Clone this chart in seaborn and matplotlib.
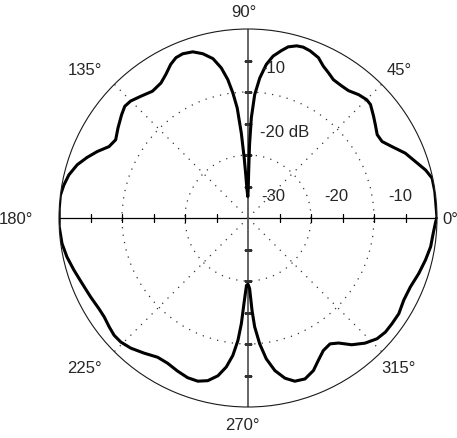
import numpy as np
import pandas as pd
import matplotlib
matplotlib.use('Agg')
import matplotlib.pyplot as plt
import seaborn as sns

sns.set_style('white')
plt.rcParams['font.family'] = ['Liberation Sans', 'DejaVu Sans']

# radiation pattern (angle in degrees, gain in dB)
angle_deg = [0, 8, 12.2, 15.1, 18.6, 22.4, 26.4, 29.7, 32.8, 36.2, 39, 42.8,
             44.9, 48.1, 51.7, 54.6, 58.3, 61, 63.6, 66.3, 69.6, 72.1, 74.2,
             76.8, 78.7, 81.2, 83.2, 85.2, 86.9, 88.1, 88.8, 89.2, 89.6,
             90.5, 92, 93, 93.6, 94.5, 95.6, 96.9, 98.3, 100.1, 102.4, 105.4,
             108.4, 111.7, 114.2, 116.7, 119.8, 122.8, 127, 131.4, 135.1, 137.8,
             140.8, 145.3, 149.4, 152.8, 156.2, 159.4, 162.7, 166.5, 169.9,
             173.1, 177.1, 182.6, 187.8, 192.1, 196.6, 201.6, 206.6, 211.3,
             214.5, 218.1, 221.2, 224.3, 228, 232.5, 237, 241, 245.3, 249.3,
             252.9, 256.1, 259.2, 261.7, 263.7, 265.3, 266.4, 267.3, 268.7,
             270, 271.3, 272.5, 273.5, 275.3, 277.4, 280, 283, 286, 289.5,
             293.2, 296.3, 299.6, 303.1, 305.9, 309.3, 313.1, 316.9, 320.3,
             323.7, 327.6, 332.2, 337, 342, 346.7, 351.1, 355.3, 358.9, 360]
gain_db = [0.0, -0.05, -0.1, -0.8, -1.95, -3.0, -4.5, -5.5, -5.6, -4.95, -4.35,
           -3.5, -3.4, -3.7, -4.25, -4.3, -4.2, -3.65, -3.1, -2.2, -1.7, -1.5,
           -1.6, -2.1, -2.9, -4.0, -5.45, -7.7, -10.4, -14.1, -18.4, -22.9,
           -25.6, -26.6, -25.5, -23.0, -20.5, -16.5, -12.45, -10.0, -7.8, -5.8,
           -4.1, -2.95, -2.2, -1.95, -2.1, -2.7, -3.75, -4.5, -4.8, -4.25, -3.7,
           -3.6, -4.1, -4.9, -5.6, -5.2, -3.85, -2.7, -1.6, -0.75, -0.3, 0.0,
           0.0, 0.0, -0.2, -0.6, -1.15, -1.7, -2.05, -2.3, -2.3, -2.0, -1.75,
           -1.8, -2.2, -2.95, -3.65, -3.65, -3.25, -2.9, -2.9, -3.4, -4.5,
           -6.1, -8.05, -10.5, -13.2, -16.4, -19.3, -19.5, -18.8, -15.3, -12.7,
           -9.95, -7.45, -5.4, -3.9, -3.05, -2.9, -3.65, -4.8, -5.8, -6.15,
           -5.5, -4.0, -2.8, -1.95, -1.65, -1.65, -1.65, -2.05, -2.0, -1.5,
           -1.05, -0.65, -0.5, -0.2, 0.0]

ring_db = [-20, -10]
diag_deg = [45, 135, 225, 315]
tick_db = [-25, -20, -15, -10, -5]

angle_labels = ["90°", "0°", "180°", "270°", "45°", "135°", "225°", "315°"]
angle_label_pos = [(0.489, 1.046), (1.035, 0.499), (-0.114, 0.499), (0.484, -0.047),
                   (0.899, 0.892), (0.069, 0.892), (0.066, 0.105), (0.899, 0.105)]
level_labels = ["-10", "-20 dB", "-30", "-20", "-10"]
level_label_pos = [(0.566, 0.898), (0.532, 0.730), (0.566, 0.560),
                   (0.734, 0.560), (0.902, 0.560)]

df = pd.DataFrame({'theta': np.deg2rad(angle_deg), 'gain': gain_db})

fig = plt.figure(figsize=(4.57, 4.39), dpi=100)
ax = fig.add_axes([59 / 457, 31 / 439, 378 / 457, 378 / 439], projection='polar')
ax.set_theta_zero_location('E')
ax.set_ylim(-30, 0)

# dotted grid
ax.set_yticks(ring_db)
ax.set_yticklabels([])
ax.set_xticks(np.deg2rad(diag_deg))
ax.set_xticklabels([])
ax.grid(True, color='0.2', linestyle=(0, (1, 5)), linewidth=0.9)
ax.tick_params(length=0)
ax.spines['polar'].set_linewidth(0.8)
ax.spines['polar'].set_color('0.1')

# solid axes with ticks
ax.axvline(0, color='k', lw=0.9)
ax.axvline(np.pi, color='k', lw=0.9)
ax.axvline(np.pi / 2, color='0.35', lw=1.3)
ax.axvline(3 * np.pi / 2, color='0.35', lw=1.3)
for t in [0, np.pi]:
    ax.plot([t] * len(tick_db), tick_db, ls='none', marker='|', ms=6, mew=0.9, color='k')
for t in [np.pi / 2, 3 * np.pi / 2]:
    ax.plot([t] * len(tick_db), tick_db, ls='none', marker='_', ms=6, mew=0.9, color='0.2')

sns.lineplot(data=df, x='theta', y='gain', sort=False, estimator=None,
             color='black', lw=2.2, ax=ax)
ax.set_xlabel('')
ax.set_ylabel('')

for txt, (x, y) in zip(angle_labels, angle_label_pos):
    ax.text(x, y, txt, transform=ax.transAxes, ha='center', va='center',
            fontsize=12, color='0.15', clip_on=False)
for txt, (x, y) in zip(level_labels, level_label_pos):
    ha = 'left' if txt.endswith('dB') else 'center'
    ax.text(x, y, txt, transform=ax.transAxes, ha=ha, va='center',
            fontsize=12, color='0.15')

fig.savefig('out.png', dpi=100)
